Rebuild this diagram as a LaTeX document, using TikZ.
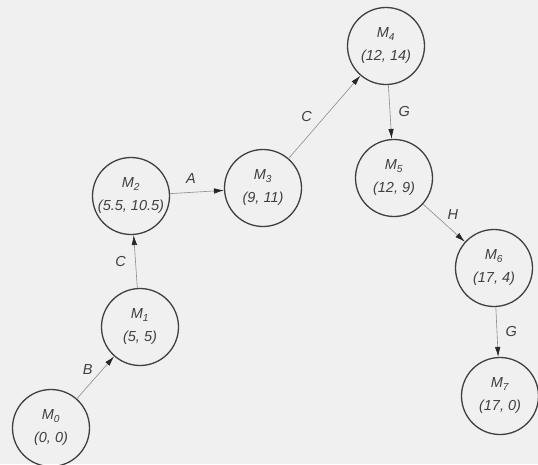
\documentclass[tikz,border=0pt]{standalone}
\usepackage{fontspec}
\setmainfont{Liberation Sans}
\usepackage{xcolor}
\usetikzlibrary{arrows.meta,positioning}

\begin{document}
\begin{tikzpicture}[
  x=1pt, y=-1pt,
  mstate/.style={circle, draw=black!75, line width=1.3pt, minimum size=77pt, inner sep=0pt,
    align=center, text=black!75, font=\fontsize{14.5}{23}\selectfont\itshape},
  arr/.style={-{Latex[length=10pt, width=5.5pt, black!85]}, line width=0.6pt, draw=black!45},
  lab/.style={font=\fontsize{14.5}{16}\selectfont\itshape, text=black!75}
]

% page
\fill[black!6] (0,0) rectangle (538,464);
\useasboundingbox (0,0) rectangle (538,464);

% states
\node[mstate] (m0) at (51,428) {M\textsubscript{0}\\(0, 0)};
\node[mstate] (m1) at (140,327) {M\textsubscript{1}\\(5, 5)};
\node[mstate] (m2) at (131,196) {M\textsubscript{2}\\(5.5, 10.5)};
\node[mstate] (m3) at (263,188) {M\textsubscript{3}\\(9, 11)};
\node[mstate] (m4) at (386,46) {M\textsubscript{4}\\(12, 14)};
\node[mstate] (m5) at (394,178) {M\textsubscript{5}\\(12, 9)};
\node[mstate] (m6) at (494,268) {M\textsubscript{6}\\(17, 4)};
\node[mstate] (m7) at (500,396) {M\textsubscript{7}\\(17, 0)};

% transitions
\draw[arr] (m0) -- (m1) node[lab, midway, above left=-1pt] {B};
\draw[arr] (m1) -- (m2) node[lab, midway, left=6pt] {C};
\draw[arr] (m2) -- (m3) node[lab, midway, above=5pt, xshift=-6pt] {A};
\draw[arr] (m3) -- (m4) node[lab, midway, left=9pt] {C};
\draw[arr] (m4) -- (m5) node[lab, midway, right=5pt] {G};
\draw[arr] (m5) -- (m6) node[lab, midway, above right=0pt] {H};
\draw[arr] (m6) -- (m7) node[lab, midway, right=5pt] {G};

\end{tikzpicture}
\end{document}
